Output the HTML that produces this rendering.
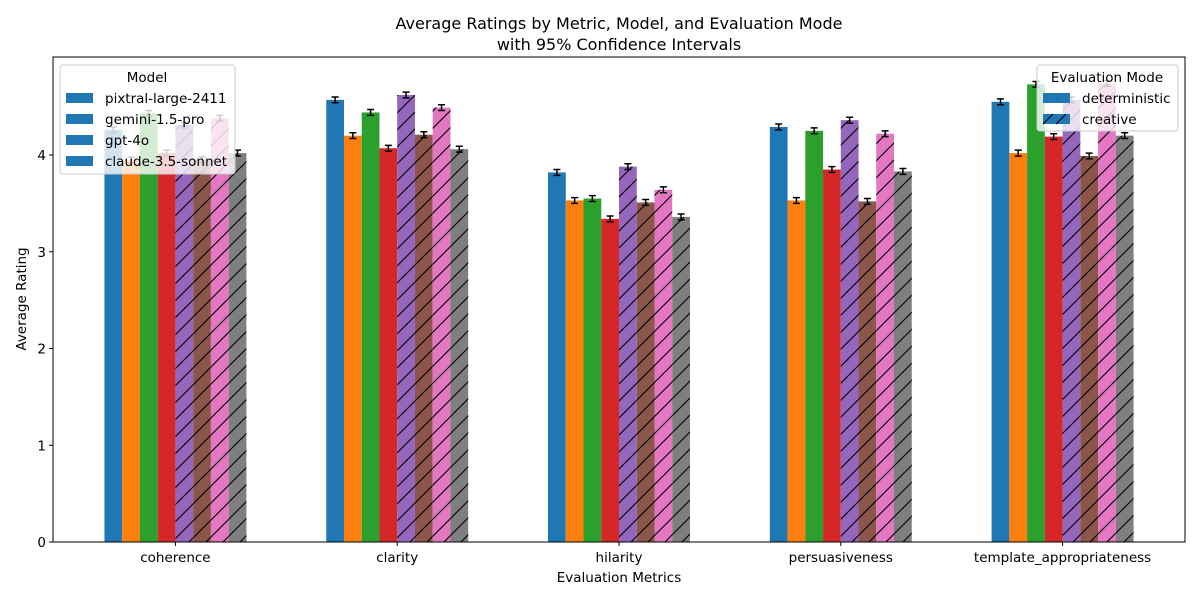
<!DOCTYPE html>
<html><head><meta charset="utf-8"><style>
body{margin:0;background:#fff;font-family:"DejaVu Sans","Liberation Sans",sans-serif}
</style></head><body>
<svg id="chart" width="1200" height="600" xmlns="http://www.w3.org/2000/svg" font-family="DejaVu Sans, Liberation Sans, sans-serif">
<defs>
<pattern id="hatch" patternUnits="userSpaceOnUse" width="17" height="17">
<path d="M-2,19 L19,-2 M-2,2 L2,-2 M15,19 L19,15" stroke="#000" stroke-width="1.1"/>
</pattern>
</defs>
<rect width="1200" height="600" fill="#fff"/>
<text x="619" y="29" text-anchor="middle" font-size="16">Average Ratings by Metric, Model, and Evaluation Mode</text>
<text x="619" y="50" text-anchor="middle" font-size="16">with 95% Confidence Intervals</text>
<g id="plot"></g>
<rect x="53" y="57" width="1132" height="485" fill="none" stroke="#000" stroke-width="1"/>
<text x="619" y="582" text-anchor="middle" font-size="13.5">Evaluation Metrics</text>
<text transform="translate(26,299) rotate(-90)" text-anchor="middle" font-size="13.5">Average Rating</text>
<g>
<rect x="60" y="65" width="175" height="109" rx="3" fill="#fff" fill-opacity="0.8" stroke="#ccc"/>
<text x="147" y="82" text-anchor="middle" font-size="13.5">Model</text>
<rect x="66" y="93" width="27" height="10" fill="#1f77b4"/><text x="105" y="103" font-size="13.5">pixtral-large-2411</text>
<rect x="66" y="114" width="27" height="10" fill="#1f77b4"/><text x="105" y="124" font-size="13.5">gemini-1.5-pro</text>
<rect x="66" y="135" width="27" height="10" fill="#1f77b4"/><text x="105" y="145" font-size="13.5">gpt-4o</text>
<rect x="66" y="156" width="27" height="10" fill="#1f77b4"/><text x="105" y="166" font-size="13.5">claude-3.5-sonnet</text>
</g>
<g>
<rect x="1037" y="65" width="141" height="66" rx="3" fill="#fff" fill-opacity="0.8" stroke="#ccc"/>
<text x="1107" y="82" text-anchor="middle" font-size="13.5">Evaluation Mode</text>
<rect x="1043" y="93" width="27" height="10" fill="#1f77b4"/><text x="1082" y="103" font-size="13.5">deterministic</text>
<rect x="1043" y="114" width="27" height="10" fill="#1f77b4"/><path d="M1043,124 L1053,114 M1056,124 L1066,114" stroke="#000" stroke-width="1.1"/><text x="1082" y="124" font-size="13.5">creative</text>
</g>
</svg>
<script>
const categories=["coherence","clarity","hilarity","persuasiveness","template_appropriateness"];
const seriesNames=["pixtral-large-2411 deterministic","gemini-1.5-pro deterministic","gpt-4o deterministic","claude-3.5-sonnet deterministic","pixtral-large-2411 creative","gemini-1.5-pro creative","gpt-4o creative","claude-3.5-sonnet creative"];
const pixtralDet=[4.26,4.57,3.82,4.29,4.55];
const geminiDet=[3.95,4.20,3.53,3.53,4.02];
const gptDet=[4.43,4.44,3.55,4.25,4.73];
const claudeDet=[4.02,4.07,3.34,3.85,4.19];
const pixtralCre=[4.31,4.62,3.88,4.36,4.57];
const geminiCre=[3.95,4.21,3.51,3.52,3.99];
const gptCre=[4.38,4.49,3.64,4.22,4.74];
const claudeCre=[4.02,4.06,3.36,3.83,4.20];
const errors=[0.03,0.03,0.03,0.03,0.03,0.03,0.03,0.03];
const yTicks=[0,1,2,3,4];
const series=[pixtralDet,geminiDet,gptDet,claudeDet,pixtralCre,geminiCre,gptCre,claudeCre];
const colors=["#1f77b4","#ff7f0e","#2ca02c","#d62728","#9467bd","#8c564b","#e377c2","#7f7f7f"];
const L=53,R=1185,T=57,B=542,xmin=-0.552,xmax=4.552,ymax=5.013,bw=0.08;
const xs=v=>L+(v-xmin)/(xmax-xmin)*(R-L);
const ys=v=>B-v/ymax*(B-T);
const NS="http://www.w3.org/2000/svg";
const g=document.getElementById("plot");
function mk(t,a){const e=document.createElementNS(NS,t);for(const k in a)e.setAttribute(k,a[k]);g.appendChild(e);return e;}
yTicks.forEach(t=>{
 const l=mk("line",{x1:L-4,x2:L,y1:ys(t),y2:ys(t),stroke:"#000"});
 
 
 const tx=mk("text",{x:L-7,y:ys(t)+5,"text-anchor":"end","font-size":"13.5"});tx.textContent=t;
 
 
});
categories.forEach((c,i)=>{
 const l=mk("line",{x1:xs(i),x2:xs(i),y1:B,y2:B+4,stroke:"#000"});
 
 
 const tx=mk("text",{x:xs(i),y:B+20,"text-anchor":"middle","font-size":"13.5"});tx.textContent=c;
 
 
});
series.forEach((vals,s)=>{
 vals.forEach((v,i)=>{
  const x0=xs(i-0.32+s*bw),x1=xs(i-0.32+(s+1)*bw);
  const r=mk("rect",{x:x0,y:ys(v),width:x1-x0,height:B-ys(v),fill:colors[s]});
  
  
  if(s>=4){const h=mk("rect",{x:x0,y:ys(v),width:x1-x0,height:B-ys(v),fill:"url(#hatch)"});
   
   }
  const cx=(x0+x1)/2,e=errors[s];
  const eb=mk("path",{d:`M${cx},${ys(v+e)}V${ys(v-e)}M${cx-3.5},${ys(v+e)}H${cx+3.5}M${cx-3.5},${ys(v-e)}H${cx+3.5}`,stroke:"#000","stroke-width":1.5,fill:"none"});
  
  
 });
});
</script>
</body></html>
